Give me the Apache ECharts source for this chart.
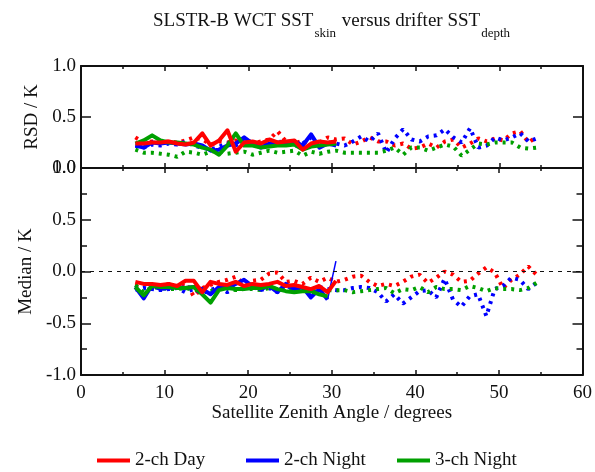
<!DOCTYPE html>
<html>
<head>
<meta charset="utf-8">
<script src="https://cdn.jsdelivr.net/npm/echarts@6/dist/echarts.min.js"></script>
<style>
  html, body { margin: 0; padding: 0; background: #fff; }
  #chart { width: 595px; height: 472px; }
</style>
</head>
<body>
<div id="chart"></div>
<script>
// bin centres (satellite zenith angle, degrees)
var angleShort = [6.5, 7.5, 8.5, 9.5, 10.5, 11.5, 12.5, 13.5, 14.5, 15.5, 16.5, 17.5, 18.5,
    19.5, 20.5, 21.5, 22.5, 23.5, 24.5, 25.5, 26.5, 27.5, 28.5, 29.5, 30.5];
var angleLong = [6.5, 7.5, 8.5, 9.5, 10.5, 11.5, 12.5, 13.5, 14.5, 15.5, 16.5, 17.5, 18.5,
    19.5, 20.5, 21.5, 22.5, 23.5, 24.5, 25.5, 26.5, 27.5, 28.5, 29.5, 30.5, 31.5, 32.5,
    33.5, 34.5, 35.5, 36.5, 37.5, 38.5, 39.5, 40.5, 41.5, 42.5, 43.5, 44.5, 45.5, 46.5,
    47.5, 48.5, 49.5, 50.5, 51.5, 52.5, 53.5, 54.5];
var blueTailAngle = [29.5, 30.5];

// RSD, solid (short range)
var rsdDay2 = [0.24, 0.24, 0.25, 0.25, 0.26, 0.24, 0.23, 0.25, 0.34, 0.22, 0.27, 0.37, 0.16,
    0.25, 0.26, 0.24, 0.28, 0.25, 0.26, 0.27, 0.18, 0.24, 0.26, 0.25, 0.26];
var rsdNight2 = [0.22, 0.2, 0.25, 0.24, 0.25, 0.24, 0.23, 0.24, 0.22, 0.17, 0.18, 0.22, 0.24,
    0.3, 0.24, 0.2, 0.24, 0.25, 0.25, 0.26, 0.22, 0.33, 0.2, 0.24, 0.22];
var rsdNight3 = [0.24, 0.27, 0.32, 0.27, 0.25, 0.25, 0.24, 0.23, 0.2, 0.18, 0.13, 0.22, 0.34,
    0.22, 0.22, 0.2, 0.21, 0.22, 0.22, 0.23, 0.18, 0.21, 0.22, 0.23, 0.24];
// RSD, dotted (long range)
var rsdDay2b = [0.3, 0.25, 0.26, 0.25, 0.26, 0.25, 0.27, 0.3, 0.28, 0.23, 0.26, 0.25, 0.27,
    0.25, 0.24, 0.26, 0.28, 0.36, 0.26, 0.24, 0.27, 0.23, 0.25, 0.3, 0.28, 0.29, 0.23,
    0.26, 0.3, 0.26, 0.26, 0.22, 0.24, 0.19, 0.2, 0.24, 0.2, 0.26, 0.28, 0.2, 0.24,
    0.29, 0.26, 0.29, 0.27, 0.34, 0.36, 0.25, 0.31];
var rsdNight2b = [0.22, 0.2, 0.23, 0.22, 0.24, 0.23, 0.26, 0.22, 0.2, 0.18, 0.21, 0.24, 0.22,
    0.28, 0.25, 0.22, 0.24, 0.26, 0.25, 0.22, 0.24, 0.3, 0.22, 0.25, 0.24, 0.22, 0.26,
    0.31, 0.26, 0.34, 0.15, 0.29, 0.38, 0.28, 0.26, 0.31, 0.32, 0.38, 0.3, 0.25, 0.39,
    0.2, 0.22, 0.3, 0.27, 0.3, 0.34, 0.26, 0.29];
var rsdNight3b = [0.18, 0.15, 0.15, 0.14, 0.13, 0.11, 0.16, 0.15, 0.13, 0.16, 0.17, 0.14, 0.15,
    0.16, 0.13, 0.15, 0.17, 0.15, 0.16, 0.17, 0.12, 0.16, 0.14, 0.16, 0.17, 0.15, 0.15,
    0.15, 0.15, 0.15, 0.17, 0.2, 0.13, 0.2, 0.2, 0.17, 0.2, 0.23, 0.21, 0.12, 0.18,
    0.24, 0.23, 0.25, 0.25, 0.25, 0.2, 0.19, 0.2];

// Median, solid (short range)
var medDay2 = [-0.1, -0.12, -0.12, -0.13, -0.12, -0.14, -0.09, -0.09, -0.2, -0.1, -0.12, -0.13,
    -0.1, -0.14, -0.12, -0.13, -0.12, -0.1, -0.14, -0.13, -0.15, -0.17, -0.14, -0.2, -0.09];
var medNight2 = [-0.15, -0.26, -0.13, -0.17, -0.16, -0.15, -0.16, -0.15, -0.17, -0.22, -0.15,
    -0.16, -0.12, -0.08, -0.14, -0.17, -0.14, -0.2, -0.12, -0.17, -0.15, -0.25, -0.17, -0.27];
var medNight2Tail = [-0.27, 0.1];
var medNight3 = [-0.15, -0.23, -0.14, -0.15, -0.15, -0.16, -0.16, -0.15, -0.22, -0.3, -0.18,
    -0.16, -0.17, -0.17, -0.16, -0.16, -0.14, -0.17, -0.19, -0.2, -0.19, -0.19, -0.22, -0.24];
// Median, dotted (long range)
var medDay2b = [-0.14, -0.12, -0.13, -0.14, -0.12, -0.15, -0.11, -0.24, -0.16, -0.13, -0.1,
    -0.08, -0.05, -0.12, -0.09, -0.08, -0.02, -0.01, -0.1, -0.09, -0.12, -0.06, -0.1, -0.06,
    -0.1, -0.08, -0.05, -0.04, -0.1, -0.14, -0.12, -0.14, -0.1, -0.05, -0.03, -0.11, -0.06,
    0.0, -0.03, -0.1, -0.09, -0.02, 0.04, -0.01, -0.16, -0.08, -0.03, 0.05, -0.03];
var medNight2b = [-0.18, -0.16, -0.17, -0.18, -0.17, -0.16, -0.2, -0.17, -0.21, -0.18, -0.15,
    -0.2, -0.16, -0.1, -0.15, -0.18, -0.16, -0.2, -0.13, -0.18, -0.16, -0.24, -0.15, -0.17,
    -0.18, -0.18, -0.16, -0.15, -0.16, -0.2, -0.29, -0.22, -0.31, -0.25, -0.19, -0.18, -0.25,
    -0.07, -0.27, -0.34, -0.24, -0.22, -0.43, -0.17, -0.14, -0.06, -0.08, -0.17, -0.11];
var medNight3b = [-0.13, -0.2, -0.15, -0.16, -0.17, -0.17, -0.16, -0.18, -0.17, -0.19, -0.17,
    -0.16, -0.18, -0.17, -0.17, -0.18, -0.16, -0.17, -0.18, -0.17, -0.19, -0.18, -0.2, -0.18,
    -0.18, -0.18, -0.2, -0.19, -0.18, -0.17, -0.16, -0.21, -0.17, -0.18, -0.15, -0.2, -0.15,
    -0.17, -0.17, -0.18, -0.14, -0.16, -0.19, -0.16, -0.17, -0.17, -0.18, -0.16, -0.11];

var xTicks = [0, 10, 20, 30, 40, 50, 60];

var RED = '#ff0000', BLUE = '#0000ff', GREEN = '#00a000';
var FONT = '"Liberation Serif", "DejaVu Serif", serif';

function pairs(xs, ys) {
    return ys.map(function (v, i) { return [xs[i], v]; });
}

function solid(name, color, xs, ys, ax, width) {
    return {
        name: name, type: 'line', xAxisIndex: ax, yAxisIndex: ax,
        data: pairs(xs, ys), symbol: 'none', silent: true,
        lineStyle: { color: color, width: width || 4, join: 'round' },
        itemStyle: { color: color }
    };
}

function dotted(name, color, xs, ys, ax) {
    return {
        name: name, type: 'line', xAxisIndex: ax, yAxisIndex: ax,
        data: pairs(xs, ys), symbol: 'none', silent: true,
        lineStyle: { color: color, width: 4, type: [3, 5] },
        itemStyle: { color: color }
    };
}

var axisText = { fontFamily: FONT, fontSize: 19, color: '#111', fontWeight: 'normal' };
var frame = { color: '#111', width: 2 };

function xAxisCfg(grid, pos, labels) {
    return {
        type: 'value', gridIndex: grid, position: pos, min: 0, max: 60, interval: 10,
        axisLine: { show: true, onZero: false, lineStyle: frame },
        axisTick: { show: true, inside: true, length: 5, lineStyle: { color: '#111', width: 1.5 } },
        minorTick: { show: true, splitNumber: 2, length: 3, lineStyle: { color: '#111', width: 1.5 } },
        axisLabel: labels ? Object.assign({ margin: 9, formatter: function (v) {
            return xTicks.indexOf(v) >= 0 ? String(v) : '';
        } }, axisText) : { show: false },
        splitLine: { show: false },
        name: labels ? 'Satellite Zenith Angle / degrees' : '',
        nameLocation: 'middle', nameGap: 29,
        nameTextStyle: axisText
    };
}

function yAxisCfg(grid, pos, min, max, minor, labels, name, gap) {
    return {
        type: 'value', gridIndex: grid, position: pos, min: min, max: max, interval: 0.5,
        axisLine: { show: true, onZero: false, lineStyle: frame },
        axisTick: { show: true, inside: true, length: 10, lineStyle: { color: '#111', width: 1.5 } },
        minorTick: { show: minor, splitNumber: 2, length: 6, lineStyle: { color: '#111', width: 1.5 } },
        axisLabel: labels ? Object.assign({ margin: 5, formatter: function (v) {
            return v.toFixed(1);
        } }, axisText) : { show: false },
        splitLine: { show: false },
        name: name || '', nameLocation: 'middle', nameGap: gap || 0, nameRotate: 90,
        nameTextStyle: axisText
    };
}

var chart = echarts.init(document.getElementById('chart'));

var legendBase = {
    top: 451, padding: 0, icon: 'rect', itemWidth: 33, itemHeight: 4, itemGap: 0,
    textStyle: { fontFamily: FONT, fontSize: 19, color: '#111' },
    selectedMode: false
};

var option = {
    animation: false,
    title: {
        text: '{a|SLSTR-B WCT SST}{b|skin}{a| versus drifter SST}{b|depth}',
        left: 332, top: 12, textAlign: 'center', padding: 0,
        textStyle: {
            fontWeight: 'normal',
            rich: {
                a: { fontFamily: FONT, fontSize: 19, fontWeight: 'normal', color: '#111', lineHeight: 26, verticalAlign: 'top' },
                b: { fontFamily: FONT, fontSize: 13, fontWeight: 'normal', color: '#111', lineHeight: 26, verticalAlign: 'top', padding: [15, 1, 0, 1] }
            }
        }
    },
    legend: [
        Object.assign({ left: 97, data: ['2-ch Day'] }, legendBase),
        Object.assign({ left: 246, data: ['2-ch Night'] }, legendBase),
        Object.assign({ left: 397, data: ['3-ch Night'] }, legendBase)
    ],
    grid: [
        { left: 81, top: 66, width: 502, height: 102, show: false },
        { left: 81, top: 168, width: 502, height: 207, show: false }
    ],
    xAxis: [
        xAxisCfg(0, 'bottom', false),
        xAxisCfg(0, 'top', false),
        xAxisCfg(1, 'bottom', true),
        xAxisCfg(1, 'top', false)
    ],
    yAxis: [
        yAxisCfg(0, 'left', 0, 1, false, true, 'RSD / K', 39),
        yAxisCfg(0, 'right', 0, 1, false, false),
        yAxisCfg(1, 'left', -1, 1, true, true, 'Median / K', 45),
        yAxisCfg(1, 'right', -1, 1, true, false)
    ],
    series: [
        dotted('rsd d2', RED, angleLong, rsdDay2b, 0),
        dotted('rsd n2', BLUE, angleLong, rsdNight2b, 0),
        dotted('rsd n3', GREEN, angleLong, rsdNight3b, 0),
        solid('2-ch Night', BLUE, angleShort, rsdNight2, 0),
        solid('3-ch Night', GREEN, angleShort, rsdNight3, 0),
        solid('2-ch Day', RED, angleShort, rsdDay2, 0),

        Object.assign(dotted('med d2', RED, angleLong, medDay2b, 2), {
            markLine: {
                silent: true, symbol: 'none', label: { show: false },
                lineStyle: { color: '#111', width: 1, type: [4, 5] },
                data: [{ yAxis: 0 }]
            }
        }),
        dotted('med n2', BLUE, angleLong, medNight2b, 2),
        dotted('med n3', GREEN, angleLong, medNight3b, 2),
        solid('2-ch Night', BLUE, angleShort, medNight2, 2),
        solid('med n2 tail', BLUE, blueTailAngle, medNight2Tail, 2, 1.5),
        solid('3-ch Night', GREEN, angleShort, medNight3, 2),
        solid('2-ch Day', RED, angleShort, medDay2, 2)
    ]
};

chart.setOption(option);
</script>
</body>
</html>
